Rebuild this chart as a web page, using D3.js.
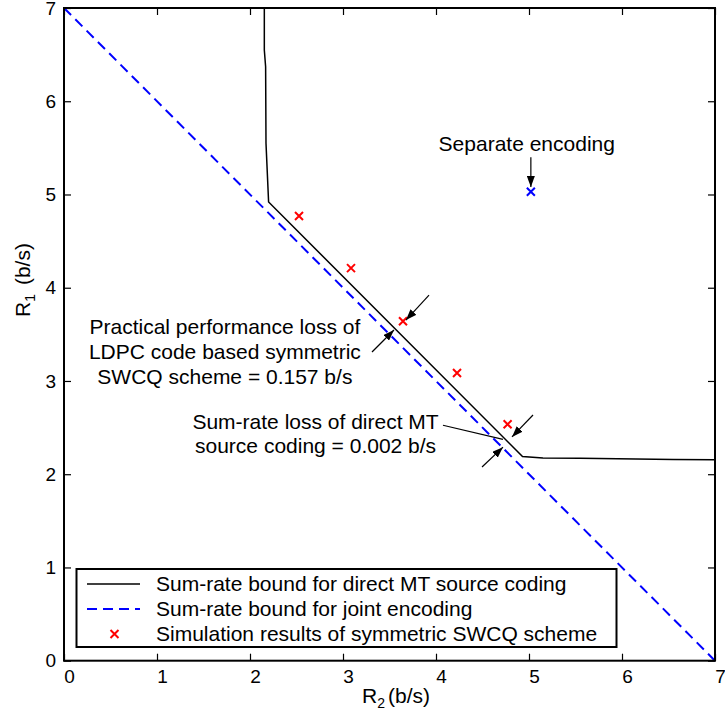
<!DOCTYPE html>
<html>
<head>
<meta charset="utf-8">
<script src="https://cdn.jsdelivr.net/npm/d3@7"></script>
<style>
  body { margin: 0; background: #fff; }
  svg { display: block; font-family: "Liberation Sans", Arial, Helvetica, sans-serif; }
</style>
</head>
<body>
<svg id="chart" width="725" height="715"></svg>
<script>
// sum-rate bound for joint encoding: R1 + R2 = 7
const jointR2 = [0, 7];
const jointR1 = [7, 0];

// sum-rate bound for direct MT source coding
const mtR2 = [2.154, 2.154, 2.168, 2.172, 2.20, 4.93, 5.15, 5.55, 6.55, 7.0];
const mtR1 = [7.0, 6.55, 6.37, 5.55, 4.92, 2.19, 2.175, 2.17, 2.157, 2.155];

// simulation results of the symmetric SWCQ scheme
const simR2 = [2.527, 3.086, 3.645, 4.226, 4.77];
const simR1 = [4.77, 4.21, 3.64, 3.086, 2.535];

// separate encoding point
const sepR2 = [5.02];
const sepR1 = [5.03];

const ticks = [0, 1, 2, 3, 4, 5, 6, 7];

const legendLabels = [
  "Sum-rate bound for direct MT source coding",
  "Sum-rate bound for joint encoding",
  "Simulation results of symmetric SWCQ scheme"
];

const svg = d3.select("#chart");
const x = d3.scaleLinear().domain([0, 7]).range([64, 715]);
const y = d3.scaleLinear().domain([0, 7]).range([660.7, 8]);

const defs = svg.append("defs");
defs.append("marker")
    .attr("id", "head")
    .attr("viewBox", "0 0 11 8")
    .attr("refX", 11).attr("refY", 4)
    .attr("markerWidth", 11).attr("markerHeight", 8)
    .attr("markerUnits", "userSpaceOnUse")
    .attr("orient", "auto")
  .append("path")
    .attr("d", "M0,0 L11,4 L0,8 Z")
    .attr("fill", "#000");

// axes, ticks pointing inward on all four sides
const fontTick = 19;
const fmt = d3.format("d");
const gx = svg.append("g").attr("transform", `translate(0,${y(0)})`)
    .call(d3.axisBottom(x).tickValues(ticks).tickFormat(fmt).tickSize(-7).tickSizeOuter(0).tickPadding(9));
gx.selectAll("text").attr("dx", 5);
svg.append("g").attr("transform", `translate(0,${y(7)})`)
    .call(d3.axisTop(x).tickValues(ticks).tickSize(-7).tickSizeOuter(0).tickFormat(""));
svg.append("g").attr("transform", `translate(${x(0)},0)`)
    .call(d3.axisLeft(y).tickValues(ticks).tickFormat(fmt).tickSize(-7).tickSizeOuter(0).tickPadding(8));
svg.append("g").attr("transform", `translate(${x(7)},0)`)
    .call(d3.axisRight(y).tickValues(ticks).tickSize(-7).tickSizeOuter(0).tickFormat(""));

svg.selectAll(".domain").remove();
svg.selectAll(".tick line").attr("stroke", "#000").attr("stroke-width", 1.2);
svg.selectAll(".tick text")
    .attr("font-family", "Liberation Sans, Arial, sans-serif")
    .attr("font-size", fontTick)
    .attr("fill", "#000");

// blue dashed joint-encoding bound
const line = d3.line().x(d => x(d[0])).y(d => y(d[1]));
svg.append("path")
    .attr("d", line(d3.zip(jointR2, jointR1)))
    .attr("fill", "none")
    .attr("stroke", "#0000ff")
    .attr("stroke-width", 2)
    .attr("stroke-dasharray", "10,6");

// black MT bound
svg.append("path")
    .attr("d", line(d3.zip(mtR2, mtR1)))
    .attr("fill", "none")
    .attr("stroke", "#000")
    .attr("stroke-width", 1.5);

function cross(g, cx, cy, color) {
  const s = 4;
  g.append("path")
    .attr("d", `M${cx - s},${cy - s}L${cx + s},${cy + s}M${cx - s},${cy + s}L${cx + s},${cy - s}`)
    .attr("stroke", color)
    .attr("stroke-width", 2)
    .attr("fill", "none");
}

const marks = svg.append("g");
d3.zip(simR2, simR1).forEach(d => cross(marks, x(d[0]), y(d[1]), "#ff0000"));
d3.zip(sepR2, sepR1).forEach(d => cross(marks, x(d[0]), y(d[1]), "#0000ff"));

// plot frame
svg.append("rect")
    .attr("x", x(0)).attr("y", y(7))
    .attr("width", x(7) - x(0)).attr("height", y(0) - y(7))
    .attr("fill", "none").attr("stroke", "#000").attr("stroke-width", 2);

// annotations
const fontText = 21;
const notes = svg.append("g").attr("font-size", fontText).attr("fill", "#000");

function arrow(from, to, head) {
  const l = notes.append("line")
      .attr("x1", x(from[0])).attr("y1", y(from[1]))
      .attr("x2", x(to[0])).attr("y2", y(to[1]))
      .attr("stroke", "#000").attr("stroke-width", 1.2);
  if (head) l.attr("marker-end", "url(#head)");
}

notes.append("text")
    .attr("x", x(4.976)).attr("y", y(5.47))
    .attr("text-anchor", "middle")
    .text("Separate encoding");
arrow([5.02, 5.4], [5.02, 5.08], true);

const note1 = ["Practical performance loss of", "LDPC code based symmetric", "SWCQ scheme = 0.157 b/s"];
notes.append("text")
    .attr("x", x(1.73)).attr("y", y(3.504))
    .attr("text-anchor", "middle")
  .selectAll("tspan").data(note1).join("tspan")
    .attr("x", x(1.73))
    .attr("dy", (d, i) => i ? 25 : 0)
    .text(d => d);
arrow([3.925, 3.92], [3.677, 3.653], true);
arrow([3.312, 3.311], [3.548, 3.547], true);

const note2 = ["Sum-rate loss of direct MT", "source coding = 0.002 b/s"];
notes.append("text")
    .attr("x", x(2.705)).attr("y", y(2.49))
    .attr("text-anchor", "middle")
  .selectAll("tspan").data(note2).join("tspan")
    .attr("x", x(2.705))
    .attr("dy", (d, i) => i ? 24 : 0)
    .text(d => d);
arrow([4.075, 2.525], [4.72, 2.374], false);
arrow([5.043, 2.635], [4.817, 2.40], true);
arrow([4.495, 2.077], [4.72, 2.29], true);

// axis labels with subscripts
function subLabel(g, main, sub, rest) {
  const t = g.append("text").attr("font-size", fontText).attr("fill", "#000");
  t.append("tspan").text(main);
  t.append("tspan").attr("font-size", 14).attr("dy", 5).text(sub);
  t.append("tspan").attr("dy", -5).attr("dx", 3).text(rest);
  return t;
}
subLabel(svg, "R", "2", "(b/s)")
    .attr("x", 362).attr("y", 703);
subLabel(svg.append("g").attr("transform", "translate(30,280) rotate(-90)"), "R", "1", " (b/s)")
    .attr("text-anchor", "middle");

// legend
const legend = svg.append("g");
legend.append("rect")
    .attr("x", 76.5).attr("y", 569)
    .attr("width", 540).attr("height", 78)
    .attr("fill", "#fff").attr("stroke", "#000").attr("stroke-width", 2);
const rowY = [584, 609, 634];
legend.append("line")
    .attr("x1", 87).attr("x2", 140).attr("y1", rowY[0]).attr("y2", rowY[0])
    .attr("stroke", "#000").attr("stroke-width", 1.5);
legend.append("line")
    .attr("x1", 87).attr("x2", 140).attr("y1", rowY[1]).attr("y2", rowY[1])
    .attr("stroke", "#0000ff").attr("stroke-width", 2).attr("stroke-dasharray", "10,6");
cross(legend, 114.5, rowY[2], "#ff0000");
legend.selectAll("text.lab").data(legendLabels).join("text")
    .attr("class", "lab")
    .attr("x", 156)
    .attr("y", (d, i) => rowY[i] + 7)
    .attr("font-size", fontText)
    .text(d => d);
</script>
</body>
</html>
